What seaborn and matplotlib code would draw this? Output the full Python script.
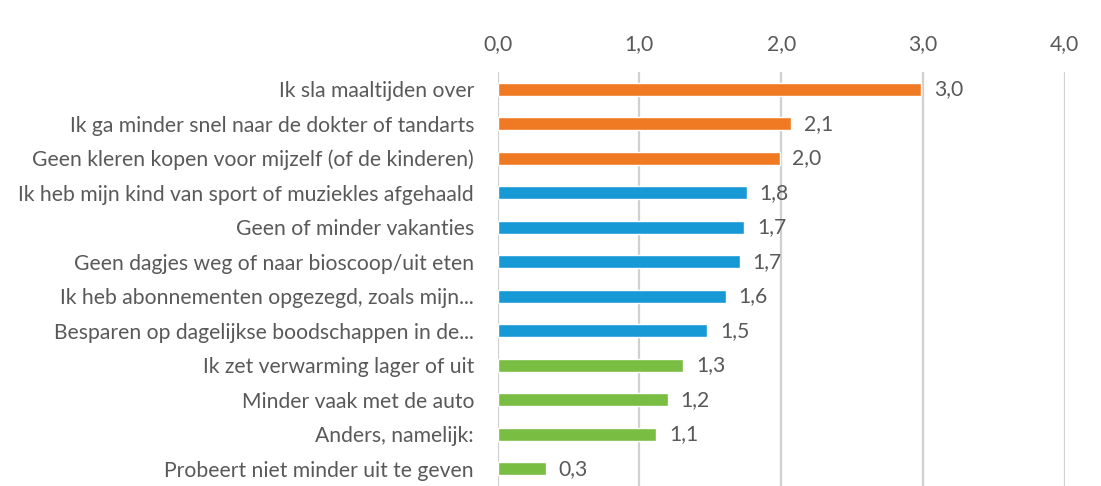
import matplotlib
matplotlib.use("Agg")
import matplotlib.pyplot as plt
import seaborn as sns
import pandas as pd

categories = [
    "Ik sla maaltijden over",
    "Ik ga minder snel naar de dokter of tandarts",
    "Geen kleren kopen voor mijzelf (of de kinderen)",
    "Ik heb mijn kind van sport of muziekles afgehaald",
    "Geen of minder vakanties",
    "Geen dagjes weg of naar bioscoop/uit eten",
    "Ik heb abonnementen opgezegd, zoals mijn...",
    "Besparen op dagelijkse boodschappen in de...",
    "Ik zet verwarming lager of uit",
    "Minder vaak met de auto",
    "Anders, namelijk:",
    "Probeert niet minder uit te geven",
]
values = [2.99, 2.07, 1.99, 1.76, 1.74, 1.71, 1.61, 1.48, 1.31, 1.20, 1.12, 0.34]
groups = ["top", "top", "top", "mid", "mid", "mid", "mid", "mid",
          "low", "low", "low", "low"]
group_colors = {"top": "#F07A24", "mid": "#1799D6", "low": "#79BE43"}
xticks = [0, 1, 2, 3, 4]

sns.set_style("white")
plt.rcParams["font.family"] = ["Lato", "DejaVu Sans"]

df = pd.DataFrame({"cat": categories, "val": values, "grp": groups})

fig = plt.figure(figsize=(11.01, 4.86), dpi=100)
ax = fig.add_axes([0.452, 0.0, 0.515, 0.852])

sns.barplot(data=df, x="val", y="cat", hue="grp", palette=group_colors,
            orient="h", width=0.38, dodge=False, legend=False, ax=ax,
            saturation=1)

text_color = "#595959"
fs = 15.2
for cont in ax.containers:
    labels = [f"{v:.1f}".replace(".", ",") for v in cont.datavalues]
    ax.bar_label(cont, labels=labels, padding=9, fontsize=fs, color=text_color)

ax.set_xlim(0, 4)
ax.set_ylim(len(categories) - 0.5, -0.5)
ax.set_xticks(xticks)
ax.set_xticklabels([f"{t:.1f}".replace(".", ",") for t in xticks])
ax.xaxis.tick_top()
ax.tick_params(axis="x", length=0, pad=13, labelsize=fs, labelcolor=text_color)
ax.tick_params(axis="y", length=0, pad=17, labelsize=fs, labelcolor=text_color)
ax.set_xlabel("")
ax.set_ylabel("")
ax.grid(axis="x", color="#D0D0D0", linewidth=1.6)
ax.set_axisbelow(True)
for s in ax.spines.values():
    s.set_visible(False)

fig.savefig("out.png", dpi=100, facecolor="white")
